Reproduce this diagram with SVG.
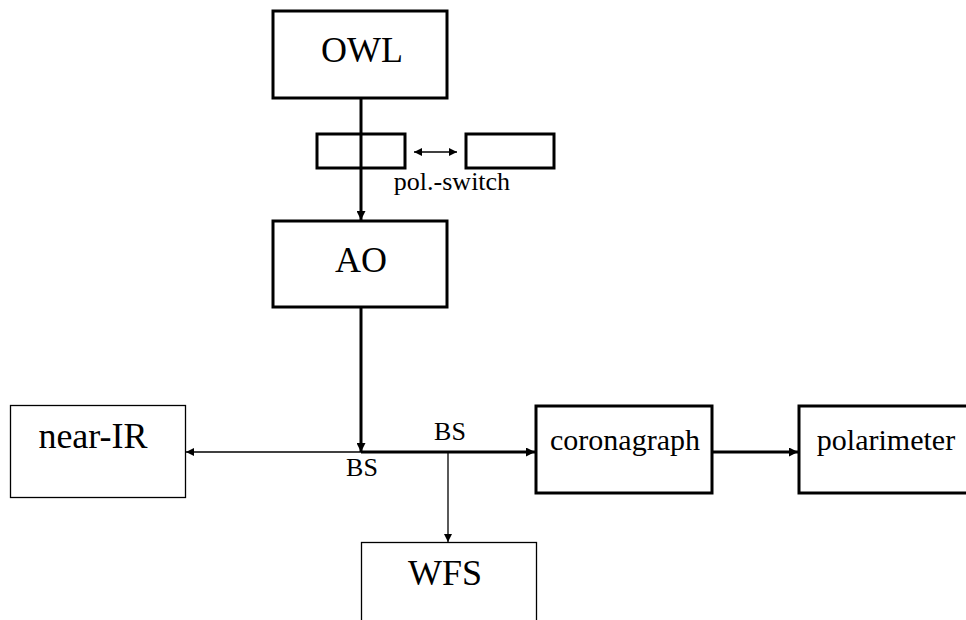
<svg xmlns="http://www.w3.org/2000/svg" width="966" height="620" viewBox="0 0 966 620">
<style>
.thick{fill:#fff;stroke:#000;stroke-width:3}
.thin{fill:#fff;stroke:#000;stroke-width:1.3}
text{font-family:'Liberation Serif','Times New Roman','DejaVu Serif',serif;fill:#000;text-anchor:middle}
.big{font-size:36px}
.mid{font-size:30px}
.sm{font-size:26px}
.cw{stroke:#000;stroke-width:3;fill:none}
.cn{stroke:#000;stroke-width:1.3;fill:none}
</style>
<defs>
<marker id="ah" viewBox="0 0 10 10" refX="10" refY="5" markerWidth="10" markerHeight="9" markerUnits="userSpaceOnUse" orient="auto-start-reverse"><path d="M0,0 L10,5 L0,10 z" fill="#000"/></marker>
<marker id="ahs" viewBox="0 0 10 10" refX="10" refY="5" markerWidth="10" markerHeight="8" markerUnits="userSpaceOnUse" orient="auto-start-reverse"><path d="M0,0 L10,5 L0,10 z" fill="#000"/></marker>
</defs>
<rect width="966" height="620" fill="#fff"/>
<g id="connectors">
<line class="cw" x1="361" y1="99" x2="361" y2="220" marker-end="url(#ah)"/>
<line class="cn" x1="414" y1="152" x2="457" y2="152" marker-start="url(#ahs)" marker-end="url(#ahs)"/>
<line class="cw" x1="361" y1="308" x2="361" y2="452" marker-end="url(#ah)"/>
<line class="cw" x1="361" y1="452" x2="535" y2="452" marker-end="url(#ah)"/>
<line class="cn" x1="361" y1="452" x2="186" y2="452" marker-end="url(#ahs)"/>
<line class="cn" x1="448" y1="452" x2="448" y2="542" marker-end="url(#ahs)"/>
<line class="cw" x1="712" y1="452" x2="798" y2="452" marker-end="url(#ah)"/>
</g>
<g id="owl"><rect class="thick" x="273" y="11" width="174" height="87"/><text class="big" x="362" y="62" font-family="Liberation Serif, serif">OWL</text></g>
<g id="polswitch1"><rect class="thick" x="317" y="134" width="88" height="34"/></g>
<line class="cw" x1="361" y1="134" x2="361" y2="168"/>
<g id="polswitch2"><rect class="thick" x="466" y="134" width="88" height="34"/></g>
<g id="polswitch-label"><text class="sm" x="452" y="190">pol.-switch</text></g>
<g id="ao"><rect class="thick" x="273" y="221" width="174" height="86"/><text class="big" x="361" y="272">AO</text></g>
<g id="nearir"><rect class="thin" x="10.5" y="405.5" width="175" height="92"/><text class="big" x="93" y="448">near-IR</text></g>
<g id="bs1"><text class="sm" x="362" y="476">BS</text></g>
<g id="bs2"><text class="sm" x="450" y="440">BS</text></g>
<g id="coronagraph"><rect class="thick" x="536" y="406" width="176" height="87"/><text class="mid" x="625" y="450">coronagraph</text></g>
<g id="polarimeter"><rect class="thick" x="799" y="406" width="180" height="87"/><text class="mid" x="886" y="450">polarimeter</text></g>
<g id="wfs"><rect class="thin" x="361.5" y="542.5" width="175" height="100"/><text class="big" x="445" y="585">WFS</text></g>
</svg>
